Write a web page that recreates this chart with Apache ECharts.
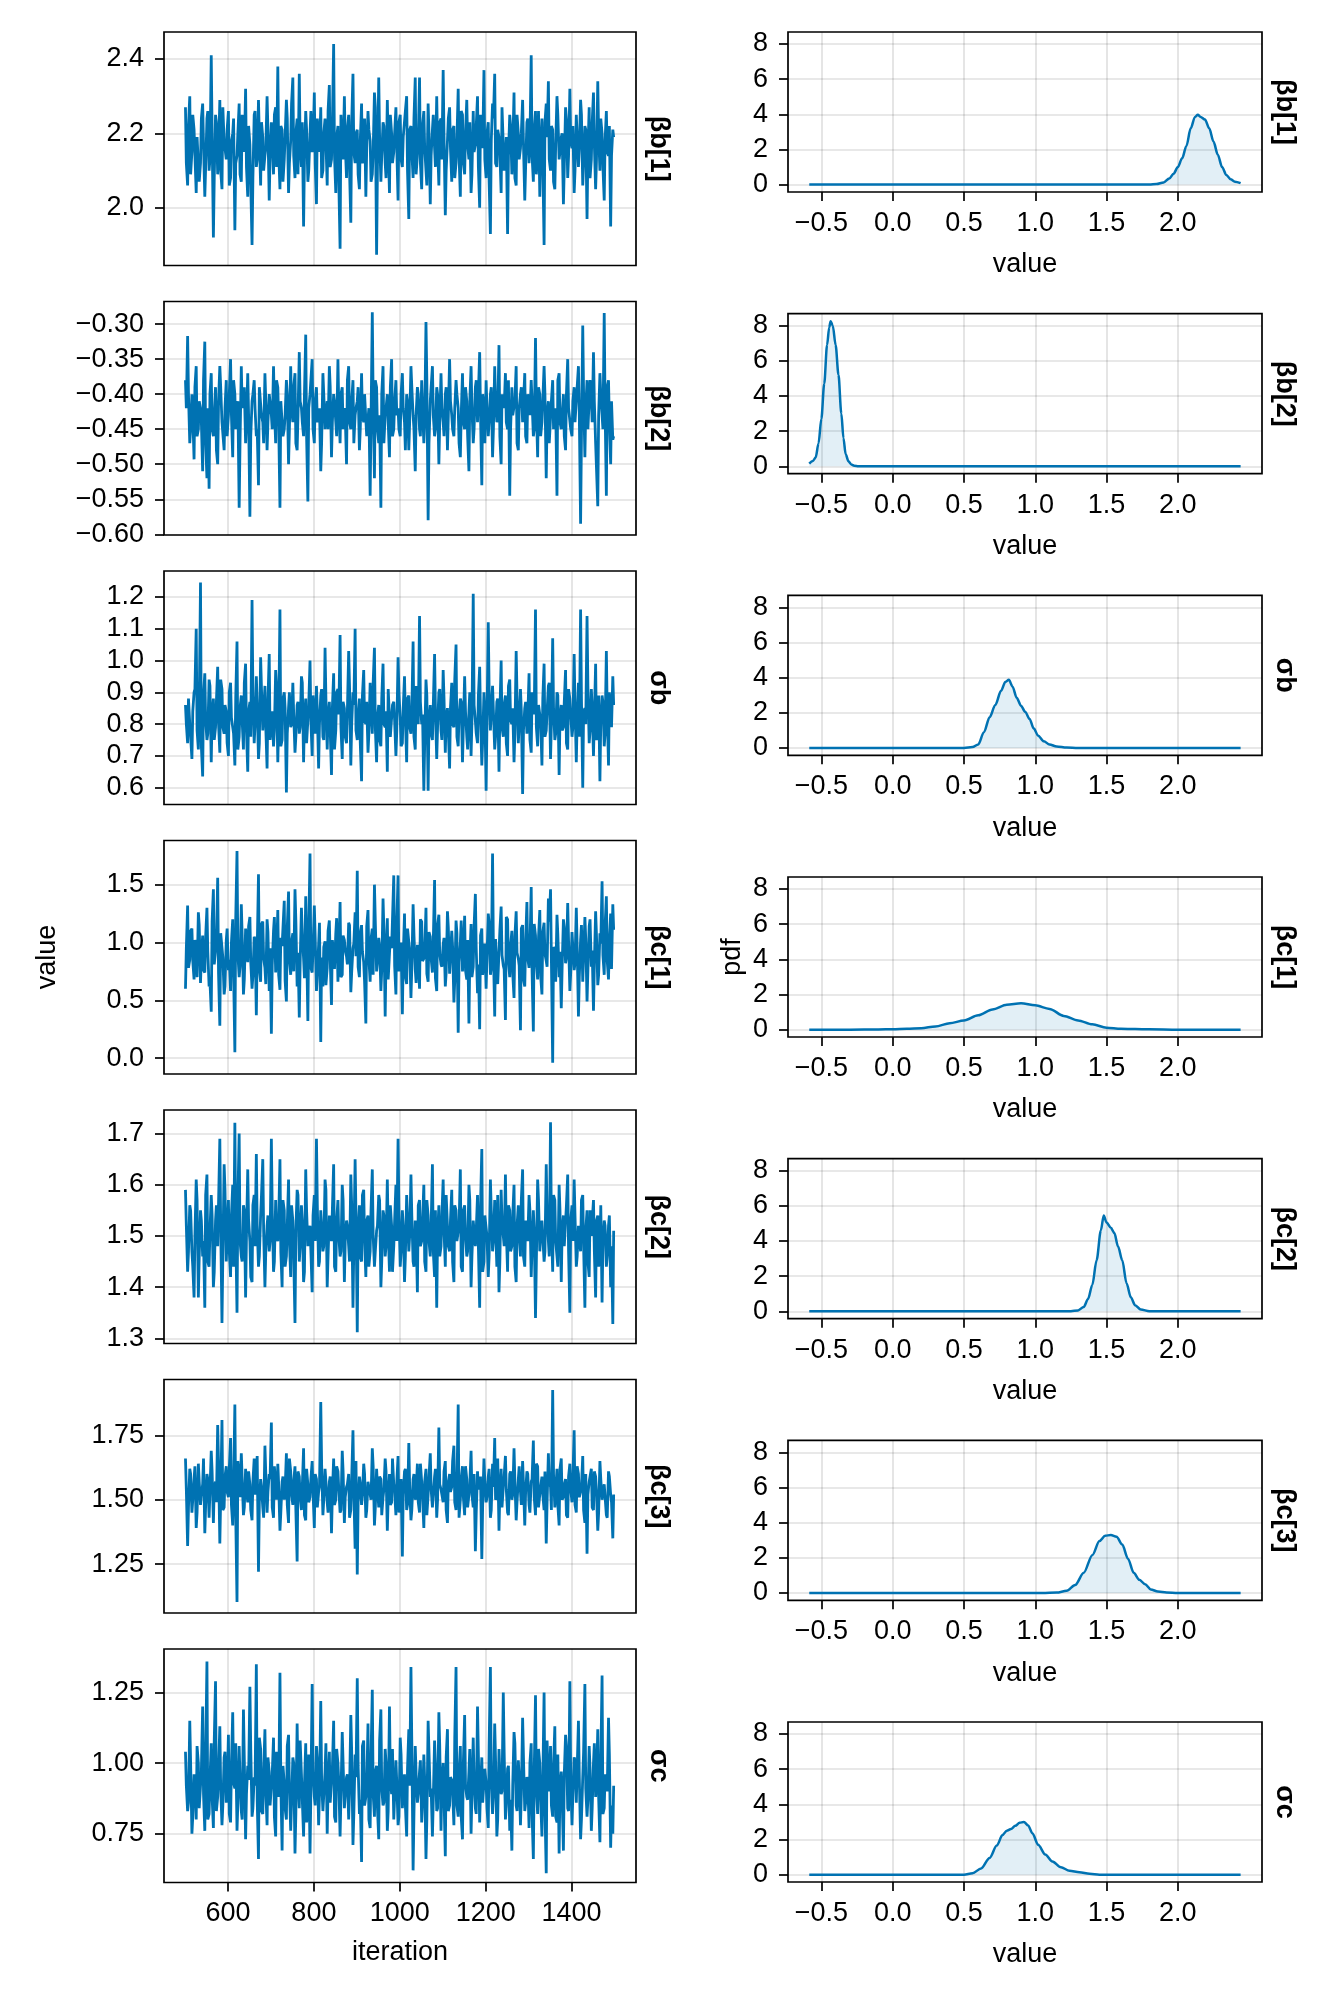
<!DOCTYPE html>
<html>
<head>
<meta charset="utf-8">
<script src="https://cdn.jsdelivr.net/npm/echarts@6/dist/echarts.min.js"></script>
<style>html,body{margin:0;padding:0;background:#fff}#c{width:1334px;height:2000px}</style>
</head>
<body>
<div id="c"></div>
<script>
// ---------- DATA ----------
const paramNames = ['βb[1]', 'βb[2]', 'σb', 'βc[1]', 'βc[2]', 'βc[3]', 'σc'];
// draws read at iterations 501,506,... (set A) and 503,508,... (set B)
const iterationsA = Array.from({length: 200}, (_, i) => 501 + 5 * i);
const iterationsB = Array.from({length: 200}, (_, i) => 503 + 5 * i);

const trace_bb1 = [2.27,2.06,2.30,2.15,2.21,2.04,2.19,2.12,2.28,2.03,2.24,2.10,2.41,1.92,2.25,2.09,2.29,2.05,2.18,2.13,
2.26,2.08,2.20,1.94,2.14,2.28,2.07,2.22,2.32,2.03,2.17,1.90,2.25,2.11,2.29,2.06,2.19,2.14,2.30,2.02,
2.23,2.09,2.27,2.38,2.05,2.21,2.13,2.29,2.04,2.18,2.35,2.08,2.24,2.36,2.11,1.95,2.26,2.07,2.20,2.15,
2.31,2.01,2.19,2.27,2.10,2.24,2.06,2.33,2.13,2.44,2.04,2.22,1.89,2.16,2.30,2.08,2.25,1.96,2.36,2.12,
2.21,2.05,2.28,2.14,2.03,2.26,2.18,2.09,2.31,1.874,2.35,2.07,2.23,2.12,2.29,2.04,2.20,2.15,2.27,2.02,
2.25,2.11,2.19,2.30,1.97,2.22,2.08,2.35,2.14,2.35,2.05,2.26,2.10,2.28,2.01,2.21,2.16,2.30,2.06,2.24,
2.37,1.98,2.18,2.27,2.07,2.22,2.12,2.32,2.03,2.25,2.09,2.29,2.13,2.04,2.26,2.17,2.30,2.00,2.21,2.37,
2.08,2.23,1.93,2.28,2.36,2.11,2.19,2.04,2.27,2.14,1.93,2.25,2.09,2.31,2.06,2.20,2.16,2.29,2.02,2.23,
2.12,2.41,2.07,2.26,2.15,2.03,2.24,1.90,2.28,2.34,2.10,2.21,2.05,2.30,2.13,2.19,2.01,2.27,2.08,2.32,
2.16,2.04,2.25,2.11,2.29,2.06,2.22,1.97,2.27,2.13,2.31,2.05,2.34,2.10,2.20,2.02,2.26,2.14,1.95,2.21];
const trace_bb1_b = [2.12,2.22,2.09,2.25,2.14,2.19,2.07,2.24,2.17,2.11,2.26,2.13,2.20,2.08,2.23,2.15,2.10,2.27,2.16,2.21,
2.06,2.18,2.24,2.12,2.20,2.09,2.25,2.15,2.11,2.22,2.17,2.08,2.26,2.13,2.19,2.23,2.10,2.16,2.21,2.14,
2.18,2.25,2.11,2.15,2.22,2.07,2.19,2.24,2.12,2.28,2.14,2.20,2.09,2.17,2.23,2.13,2.21,2.10,2.26,2.16,
2.12,2.24,2.15,2.08,2.20,2.18,2.26,2.11,2.22,2.14,2.19,2.07,2.25,2.13,2.17,2.21,2.10,2.23,2.15,2.20,
2.09,2.18,2.12,2.24,2.16,2.21,2.07,2.15,2.27,2.11,2.19,2.14,2.22,2.08,2.17,2.25,2.12,2.20,2.16,2.23,
2.13,2.19,2.26,2.10,2.21,2.15,2.24,2.09,2.18,2.12,2.22,2.16,2.06,2.20,2.14,2.25,2.11,2.17,2.23,2.13,
2.19,2.10,2.24,2.16,2.21,2.08,2.18,2.14,2.26,2.12,2.20,2.17,2.23,2.09,2.15,2.22,2.11,2.25,2.16,2.13,
2.20,2.07,2.18,2.24,2.12,2.21,2.15,2.27,2.10,2.19,2.14,2.22,2.16,2.08,2.25,2.13,2.20,2.17,2.11,2.24,
2.18,2.14,2.21,2.09,2.26,2.16,2.12,2.23,2.19,2.13,2.22,2.07,2.17,2.25,2.15,2.20,2.11,2.24,2.14,2.18,
2.22,2.10,2.19,2.16,2.25,2.12,2.21,2.15,2.08,2.23,2.17,2.13,2.20,2.24,2.11,2.18,2.15,2.22,2.14,2.19];

const trace_bb2 = [-0.38,-0.317,-0.47,-0.40,-0.493,-0.36,-0.45,-0.42,-0.51,-0.325,
-0.52,-0.535,-0.37,-0.46,-0.39,-0.50,-0.36,-0.44,-0.48,-0.38,
-0.43,-0.35,-0.49,-0.40,-0.45,-0.562,-0.36,-0.42,-0.47,-0.37,
-0.575,-0.41,-0.38,-0.46,-0.53,-0.39,-0.44,-0.37,-0.48,-0.40,
-0.43,-0.36,-0.47,-0.39,-0.562,-0.41,-0.45,-0.38,-0.50,-0.36,
-0.44,-0.37,-0.48,-0.34,-0.42,-0.46,-0.315,-0.553,-0.40,-0.35,
-0.47,-0.39,-0.43,-0.51,-0.37,-0.45,-0.41,-0.36,-0.49,-0.40,
-0.44,-0.35,-0.47,-0.39,-0.42,-0.50,-0.36,-0.45,-0.38,-0.43,
-0.41,-0.48,-0.37,-0.44,-0.40,-0.46,-0.545,-0.283,-0.52,-0.39,
-0.47,-0.562,-0.36,-0.43,-0.40,-0.49,-0.35,-0.45,-0.38,-0.42,
-0.46,-0.37,-0.44,-0.40,-0.48,-0.36,-0.43,-0.51,-0.39,-0.45,
-0.38,-0.47,-0.297,-0.58,-0.41,-0.36,-0.46,-0.39,-0.50,-0.37,
-0.44,-0.40,-0.48,-0.35,-0.43,-0.46,-0.38,-0.42,-0.49,-0.37,
-0.45,-0.41,-0.51,-0.36,-0.47,-0.39,-0.44,-0.34,-0.53,-0.42,
-0.38,-0.46,-0.40,-0.49,-0.36,-0.44,-0.33,-0.50,-0.41,-0.37,
-0.45,-0.545,-0.39,-0.43,-0.36,-0.48,-0.40,-0.44,-0.37,-0.47,
-0.42,-0.38,-0.46,-0.32,-0.49,-0.40,-0.44,-0.36,-0.52,-0.41,
-0.47,-0.38,-0.43,-0.545,-0.37,-0.45,-0.40,-0.48,-0.35,-0.42,
-0.46,-0.39,-0.44,-0.36,-0.585,-0.302,-0.49,-0.38,-0.45,-0.41,
-0.34,-0.47,-0.56,-0.37,-0.43,-0.284,-0.545,-0.38,-0.50,-0.465];
const trace_bb2_b = [-0.42,-0.40,-0.45,-0.43,-0.39,-0.46,-0.41,-0.44,-0.38,-0.47,-0.42,-0.40,-0.45,-0.43,-0.48,-0.41,-0.39,-0.44,-0.42,-0.46,
-0.40,-0.43,-0.38,-0.45,-0.41,-0.47,-0.42,-0.39,-0.44,-0.43,-0.46,-0.40,-0.42,-0.45,-0.39,-0.43,-0.47,-0.41,-0.44,-0.40,
-0.45,-0.42,-0.38,-0.44,-0.41,-0.46,-0.43,-0.40,-0.45,-0.42,-0.39,-0.47,-0.43,-0.41,-0.44,-0.40,-0.46,-0.42,-0.38,-0.45,
-0.41,-0.44,-0.42,-0.47,-0.40,-0.43,-0.45,-0.39,-0.44,-0.41,-0.46,-0.42,-0.40,-0.45,-0.43,-0.38,-0.44,-0.41,-0.47,-0.42,
-0.39,-0.45,-0.43,-0.40,-0.46,-0.42,-0.44,-0.41,-0.38,-0.45,-0.43,-0.40,-0.47,-0.42,-0.44,-0.39,-0.46,-0.41,-0.43,-0.45,
-0.40,-0.42,-0.48,-0.41,-0.44,-0.39,-0.45,-0.43,-0.40,-0.46,-0.42,-0.44,-0.38,-0.47,-0.41,-0.43,-0.45,-0.40,-0.44,-0.42,
-0.46,-0.39,-0.43,-0.41,-0.45,-0.42,-0.40,-0.47,-0.43,-0.44,-0.39,-0.46,-0.41,-0.42,-0.45,-0.38,-0.44,-0.43,-0.40,-0.47,
-0.42,-0.44,-0.39,-0.45,-0.41,-0.43,-0.46,-0.40,-0.42,-0.44,-0.38,-0.45,-0.43,-0.41,-0.47,-0.42,-0.39,-0.44,-0.46,-0.40,
-0.43,-0.41,-0.45,-0.42,-0.39,-0.46,-0.44,-0.40,-0.43,-0.47,-0.41,-0.45,-0.42,-0.38,-0.44,-0.43,-0.46,-0.40,-0.42,-0.45,
-0.41,-0.44,-0.39,-0.43,-0.46,-0.40,-0.42,-0.45,-0.38,-0.44,-0.41,-0.47,-0.43,-0.40,-0.45,-0.42,-0.39,-0.44,-0.41,-0.46];

const trace_sb = [0.86,0.74,0.80,0.69,0.90,1.10,0.72,1.245,0.635,0.96,
0.75,0.94,0.68,0.88,0.79,0.98,0.71,0.91,0.77,0.84,
0.70,0.93,0.82,0.67,1.06,0.76,0.89,0.72,0.99,0.65,
0.87,1.19,0.74,0.95,0.69,1.01,0.78,0.92,0.66,1.02,
0.80,0.73,0.97,0.68,1.16,0.75,0.90,0.585,0.85,0.79,
0.93,0.71,0.86,0.77,0.95,0.68,0.88,0.74,1.00,0.70,
0.84,0.92,0.66,0.89,0.76,1.04,0.72,0.87,0.64,0.96,
0.78,0.91,1.08,0.69,0.85,0.74,1.03,0.67,0.90,1.10,
0.75,0.88,0.62,0.97,0.80,0.71,0.93,0.77,1.04,0.68,
0.86,0.73,0.99,0.79,0.65,0.91,0.76,0.87,0.70,1.01,
0.82,0.74,0.95,0.68,0.89,0.77,1.06,0.72,0.92,1.14,
0.80,0.59,0.94,0.59,0.86,0.75,1.02,0.69,0.90,0.78,
0.97,0.71,0.85,0.66,0.93,0.79,1.05,0.73,0.88,0.68,
0.95,0.76,0.84,0.70,1.21,0.81,0.74,0.98,0.67,0.90,
0.59,1.12,0.78,0.92,0.72,0.87,0.65,1.00,0.76,0.89,
0.70,0.94,0.80,0.68,1.03,0.74,0.91,0.58,0.85,0.77,
0.96,0.71,0.88,1.16,0.73,0.83,0.67,0.99,0.78,0.92,
0.69,1.07,0.75,0.90,0.64,0.86,0.79,0.97,0.72,0.88,
0.76,1.02,0.68,0.93,1.16,0.60,0.85,1.14,0.74,0.91,
0.70,0.99,0.77,0.62,0.89,0.73,1.03,0.67,0.84,0.95];
const trace_sb_b = [0.80,0.88,0.76,0.84,0.91,0.78,0.85,0.73,0.89,0.81,0.77,0.92,0.83,0.75,0.87,0.80,0.94,0.79,0.86,0.74,
0.90,0.82,0.77,0.88,0.72,0.85,0.81,0.93,0.78,0.84,0.76,0.89,0.80,0.86,0.74,0.91,0.83,0.79,0.87,0.75,
0.84,0.78,0.92,0.81,0.73,0.88,0.85,0.77,0.90,0.80,0.83,0.76,0.87,0.79,0.93,0.82,0.74,0.86,0.81,0.89,
0.77,0.84,0.80,0.91,0.75,0.88,0.82,0.78,0.85,0.72,0.90,0.83,0.79,0.87,0.76,0.84,0.92,0.80,0.86,0.78,
0.83,0.74,0.89,0.81,0.87,0.77,0.85,0.93,0.79,0.82,0.75,0.88,0.80,0.84,0.91,0.76,0.86,0.81,0.78,0.90,
0.73,0.85,0.82,0.88,0.79,0.84,0.76,0.92,0.80,0.87,0.83,0.74,0.89,0.81,0.77,0.86,0.84,0.79,0.91,0.75,
0.88,0.82,0.78,0.85,0.80,0.94,0.76,0.83,0.87,0.79,0.84,0.72,0.90,0.81,0.86,0.77,0.89,0.82,0.75,0.85,
0.80,0.91,0.78,0.84,0.76,0.88,0.83,0.79,0.86,0.74,0.92,0.81,0.85,0.77,0.89,0.80,0.84,0.78,0.87,0.82,
0.75,0.90,0.83,0.79,0.86,0.81,0.88,0.76,0.84,0.93,0.80,0.85,0.77,0.89,0.82,0.78,0.87,0.74,0.91,0.83,
0.79,0.86,0.81,0.76,0.88,0.84,0.80,0.92,0.78,0.85,0.82,0.75,0.89,0.81,0.87,0.77,0.84,0.90,0.79,0.86];

const trace_bc1 = [0.60,1.32,0.85,1.12,0.68,0.97,1.26,0.65,1.06,0.74,
1.30,0.62,0.40,1.46,0.80,1.56,0.28,1.08,0.55,1.02,
0.76,0.58,1.20,0.05,1.79,0.70,1.33,0.55,1.12,0.83,
1.22,0.60,1.05,0.37,1.59,0.66,1.18,0.78,1.20,0.58,
0.21,1.10,0.74,1.28,0.59,0.97,1.36,0.49,1.44,0.72,
1.08,1.46,0.62,0.35,1.30,0.86,1.40,0.32,1.77,0.74,
1.32,0.58,0.98,0.14,0.62,1.01,0.78,1.19,0.46,0.92,
1.08,0.66,1.35,0.72,1.02,0.88,1.17,0.57,0.95,1.26,
1.62,0.70,1.15,0.83,0.30,1.28,0.66,1.12,1.50,0.75,
1.04,0.58,1.38,0.36,1.21,0.69,0.95,1.58,0.55,1.58,
0.81,0.38,1.25,0.64,1.11,0.52,1.33,0.77,0.98,0.60,
1.18,0.86,1.30,0.66,1.05,0.74,1.54,0.58,1.24,0.81,
0.98,0.62,1.27,0.73,1.10,0.48,1.19,0.22,1.00,0.75,
1.23,0.68,0.30,1.16,0.79,1.42,0.56,0.25,1.12,0.88,
0.60,1.25,0.72,1.77,0.36,1.03,0.65,1.31,0.80,0.33,
1.20,0.70,1.10,0.52,1.27,0.86,0.24,1.15,0.62,1.35,
0.78,1.48,0.23,1.06,0.68,1.28,0.55,1.17,0.84,1.38,
1.46,-0.04,0.93,1.24,0.70,0.43,1.20,0.82,1.34,0.58,
1.09,0.76,1.30,0.36,1.02,0.66,1.22,0.49,1.14,0.79,
0.41,1.27,0.63,1.08,1.53,0.72,1.40,0.68,1.25,1.33];
const trace_bc1_b = [0.95,0.78,1.10,0.84,1.02,0.70,1.15,0.88,0.76,1.05,0.92,0.66,1.18,0.81,0.99,0.73,1.08,0.87,0.62,1.12,
0.85,1.00,0.74,1.20,0.90,0.79,1.06,0.68,0.97,1.14,0.83,0.71,1.03,0.93,0.77,1.16,0.86,0.64,1.09,0.95,
0.80,1.22,0.89,0.72,1.04,0.96,0.67,1.13,0.84,1.01,0.75,1.19,0.91,0.82,1.07,0.69,0.98,1.11,0.78,0.94,
1.05,0.73,1.17,0.87,0.96,0.63,1.10,0.85,1.02,0.77,1.21,0.90,0.70,1.06,0.93,0.81,1.15,0.74,0.99,0.88,
0.79,1.08,0.92,0.66,1.14,0.86,1.03,0.72,1.18,0.83,0.97,0.76,1.11,0.89,0.68,1.05,0.94,0.80,1.16,0.75,
1.00,0.87,0.71,1.12,0.93,0.78,1.07,0.65,0.98,1.20,0.84,0.92,0.73,1.09,0.86,1.01,0.69,1.15,0.90,0.79,
1.04,0.74,1.13,0.88,0.96,0.67,1.08,0.83,1.19,0.91,0.76,1.02,0.85,0.70,1.14,0.95,0.81,1.06,0.72,0.99,
0.87,1.17,0.78,0.93,1.03,0.64,1.10,0.89,0.77,1.22,0.84,0.97,0.73,1.05,0.91,0.80,1.12,0.68,1.00,0.86,
0.94,0.75,1.16,0.83,1.04,0.71,1.09,0.90,0.79,1.18,0.85,0.96,0.66,1.07,0.92,0.78,1.13,0.87,1.01,0.74,
1.10,0.82,0.97,0.70,1.15,0.88,1.03,0.76,1.20,0.93,0.81,1.06,0.72,0.99,0.89,1.14,0.84,1.02,0.77,1.11];

const trace_bc2 = [1.59,1.43,1.56,1.47,1.38,1.61,1.38,1.55,1.46,1.36,
1.62,1.44,1.58,1.40,1.53,1.48,1.69,1.33,1.64,1.45,
1.57,1.42,1.60,1.721,1.35,1.70,1.46,1.56,1.38,1.63,
1.49,1.41,1.58,1.66,1.44,1.54,1.65,1.40,1.52,1.47,
1.69,1.43,1.57,1.49,1.65,1.40,1.55,1.46,1.61,1.42,
1.53,1.33,1.59,1.45,1.56,1.41,1.63,1.48,1.52,1.39,
1.58,1.69,1.44,1.55,1.47,1.61,1.40,1.54,1.49,1.64,
1.43,1.57,1.46,1.60,1.41,1.53,1.48,1.62,1.36,1.65,
1.312,1.56,1.45,1.59,1.42,1.54,1.47,1.63,1.44,1.51,
1.58,1.40,1.55,1.46,1.61,1.43,1.52,1.48,1.60,1.69,
1.44,1.55,1.41,1.58,1.47,1.62,1.45,1.53,1.39,1.57,
1.49,1.60,1.43,1.54,1.46,1.64,1.42,1.36,1.56,1.48,
1.61,1.44,1.52,1.47,1.59,1.41,1.55,1.49,1.63,1.43,
1.56,1.46,1.60,1.40,1.53,1.48,1.58,1.36,1.67,1.45,
1.54,1.42,1.61,1.47,1.57,1.44,1.39,1.59,1.50,1.62,
1.43,1.55,1.48,1.60,1.41,1.56,1.46,1.63,1.44,1.52,
1.58,1.42,1.55,1.34,1.61,1.47,1.53,1.45,1.64,1.49,
1.722,1.43,1.57,1.46,1.60,1.41,1.54,1.48,1.62,1.35,
1.56,1.61,1.44,1.52,1.47,1.58,1.36,1.55,1.42,1.50,
1.57,1.38,1.54,1.46,1.37,1.53,1.44,1.52,1.40,1.328];
const trace_bc2_b = [1.52,1.47,1.55,1.44,1.50,1.57,1.46,1.53,1.49,1.58,1.45,1.51,1.54,1.43,1.56,1.48,1.52,1.46,1.59,1.50,
1.47,1.54,1.44,1.51,1.57,1.49,1.45,1.55,1.50,1.53,1.42,1.56,1.48,1.52,1.46,1.58,1.51,1.47,1.54,1.49,
1.55,1.45,1.50,1.53,1.47,1.57,1.44,1.52,1.49,1.56,1.46,1.51,1.58,1.48,1.53,1.43,1.55,1.50,1.47,1.54,
1.49,1.56,1.45,1.52,1.48,1.59,1.46,1.51,1.55,1.44,1.53,1.50,1.47,1.57,1.49,1.52,1.45,1.56,1.48,1.54,
1.51,1.46,1.58,1.49,1.53,1.44,1.55,1.50,1.47,1.52,1.57,1.45,1.54,1.48,1.51,1.56,1.43,1.53,1.49,1.55,
1.47,1.52,1.46,1.58,1.50,1.54,1.44,1.51,1.56,1.48,1.53,1.45,1.57,1.49,1.52,1.47,1.55,1.50,1.46,1.54,
1.51,1.58,1.48,1.53,1.45,1.56,1.49,1.52,1.44,1.55,1.50,1.47,1.57,1.46,1.53,1.51,1.48,1.56,1.43,1.54,
1.50,1.46,1.55,1.49,1.52,1.58,1.45,1.53,1.48,1.51,1.56,1.47,1.54,1.44,1.52,1.50,1.57,1.46,1.53,1.49,
1.55,1.48,1.51,1.45,1.57,1.50,1.53,1.47,1.54,1.46,1.52,1.58,1.49,1.44,1.55,1.51,1.48,1.56,1.47,1.53,
1.49,1.54,1.46,1.52,1.57,1.48,1.51,1.45,1.55,1.50,1.47,1.53,1.44,1.56,1.49,1.52,1.46,1.54,1.48,1.51];

const trace_bc3 = [1.66,1.32,1.62,1.45,1.58,1.39,1.64,1.48,1.56,1.37,
1.60,1.43,1.69,1.41,1.57,1.79,1.33,1.81,1.47,1.63,
1.51,1.74,1.40,1.87,1.103,1.59,1.68,1.44,1.62,1.49,
1.56,1.42,1.66,1.52,1.22,1.58,1.47,1.71,1.45,1.60,
1.80,1.43,1.55,1.64,1.38,1.57,1.50,1.68,1.41,1.61,
1.48,1.63,1.26,1.59,1.46,1.70,1.42,1.56,1.51,1.65,
1.39,1.58,1.53,1.88,1.44,1.62,1.49,1.57,1.37,1.66,
1.50,1.61,1.45,1.69,1.41,1.55,1.60,1.46,1.77,1.31,
1.21,1.59,1.48,1.64,1.43,1.57,1.52,1.70,1.40,1.62,
1.47,1.58,1.51,1.66,1.38,1.60,1.49,1.56,1.44,1.67,
1.53,1.28,1.61,1.46,1.72,1.42,1.58,1.50,1.64,1.45,
1.57,1.39,1.62,1.52,1.68,1.47,1.59,1.43,1.78,1.54,
1.49,1.65,1.41,1.60,1.55,1.71,1.46,1.87,1.50,1.63,
1.44,1.58,1.52,1.69,1.47,1.30,1.61,1.56,1.27,1.66,
1.49,1.59,1.43,1.64,1.74,1.51,1.38,1.62,1.55,1.67,
1.45,1.60,1.50,1.70,1.42,1.58,1.53,1.65,1.40,1.61,
1.48,1.57,1.73,1.44,1.63,1.52,1.59,1.46,1.33,1.68,
1.55,1.926,1.47,1.62,1.40,1.66,1.51,1.58,1.43,1.64,
1.49,1.77,1.45,1.60,1.53,1.67,1.41,1.29,1.57,1.62,
1.46,1.59,1.38,1.65,1.50,1.56,1.44,1.61,1.52,1.35];
const trace_bc3_b = [1.54,1.47,1.60,1.50,1.63,1.45,1.57,1.52,1.66,1.48,1.58,1.43,1.61,1.55,1.49,1.64,1.51,1.46,1.59,1.53,
1.62,1.48,1.56,1.44,1.65,1.51,1.58,1.47,1.54,1.61,1.46,1.57,1.52,1.67,1.49,1.55,1.43,1.60,1.53,1.58,
1.47,1.63,1.50,1.56,1.45,1.59,1.54,1.48,1.66,1.52,1.57,1.46,1.61,1.51,1.55,1.44,1.62,1.49,1.58,1.53,
1.60,1.47,1.55,1.64,1.50,1.57,1.45,1.59,1.52,1.48,1.63,1.54,1.46,1.61,1.51,1.56,1.43,1.58,1.53,1.65,
1.49,1.56,1.52,1.60,1.46,1.57,1.50,1.63,1.47,1.55,1.59,1.44,1.54,1.61,1.51,1.48,1.66,1.53,1.57,1.45,
1.58,1.52,1.62,1.48,1.55,1.46,1.60,1.53,1.49,1.64,1.51,1.57,1.44,1.59,1.54,1.47,1.62,1.50,1.56,1.52,
1.61,1.46,1.57,1.53,1.65,1.49,1.55,1.43,1.58,1.51,1.63,1.47,1.56,1.52,1.60,1.45,1.54,1.59,1.48,1.57,
1.51,1.62,1.46,1.55,1.50,1.66,1.53,1.47,1.59,1.54,1.44,1.61,1.52,1.57,1.49,1.63,1.48,1.56,1.53,1.60,
1.45,1.58,1.51,1.64,1.47,1.55,1.52,1.61,1.49,1.57,1.46,1.60,1.53,1.48,1.62,1.50,1.56,1.44,1.59,1.54,
1.58,1.48,1.63,1.51,1.55,1.46,1.60,1.52,1.57,1.47,1.61,1.53,1.45,1.58,1.50,1.56,1.43,1.59,1.49,1.52];

const trace_sc = [1.04,0.83,1.15,0.75,0.96,0.80,1.00,0.84,1.20,0.76,
1.36,0.82,1.07,0.77,1.29,0.88,1.13,0.78,1.02,0.86,
1.10,0.79,1.18,0.91,0.76,1.06,0.83,1.19,0.73,0.99,
1.27,0.81,0.95,1.35,0.66,1.05,0.82,1.12,0.78,0.97,
0.85,1.09,0.74,1.01,1.32,0.69,0.93,0.80,1.10,0.76,
1.02,0.68,1.14,0.84,0.96,0.74,1.07,0.82,0.68,1.28,
0.88,1.06,0.78,1.22,0.83,0.97,0.75,1.04,0.86,1.15,
0.79,1.00,0.74,1.11,0.84,0.95,0.80,1.17,0.71,1.03,
1.30,0.82,0.65,1.08,0.88,1.14,0.77,1.26,0.81,0.99,
0.73,1.19,0.85,1.05,0.76,1.20,0.89,0.80,1.01,0.78,
1.09,0.84,0.96,0.74,1.12,1.34,0.62,1.06,0.86,0.97,
0.79,1.03,0.66,1.15,0.88,0.74,1.08,0.83,1.18,0.76,
1.00,0.67,1.12,0.85,0.94,0.78,1.34,0.81,1.06,0.73,
1.17,0.88,0.97,0.75,1.09,0.84,1.20,0.79,1.02,0.86,
0.93,0.77,1.34,0.82,1.14,0.74,1.05,0.89,1.25,0.80,
0.98,0.76,0.69,1.11,0.85,1.01,0.78,1.16,0.83,0.95,
0.77,1.07,0.66,1.24,0.82,1.00,0.74,1.25,0.61,0.92,
1.06,0.81,1.13,0.79,0.68,0.97,0.69,1.10,0.84,1.29,
0.78,1.02,0.86,1.15,0.73,0.95,1.28,0.81,1.06,0.76,
1.00,0.88,1.12,0.72,1.31,0.84,0.96,1.16,0.70,0.75];
const trace_sc_b = [0.92,0.86,1.00,0.81,0.95,1.06,0.84,0.97,0.89,1.03,0.80,0.94,0.88,1.08,0.83,0.98,0.91,0.85,1.04,0.90,
0.82,0.99,0.93,1.07,0.86,0.95,0.80,1.01,0.89,0.94,1.05,0.84,0.92,0.87,1.09,0.83,0.97,0.90,1.02,0.85,
0.96,0.81,1.04,0.88,0.93,0.99,0.84,1.06,0.91,0.86,1.00,0.82,0.95,1.08,0.87,0.92,0.79,1.03,0.90,0.97,
0.85,1.01,0.89,0.94,0.83,1.07,0.91,0.86,0.98,0.81,1.05,0.93,0.88,1.00,0.84,0.96,0.90,1.04,0.82,0.95,
0.99,0.87,1.06,0.85,0.92,0.80,1.02,0.89,0.97,0.84,1.08,0.91,0.86,1.00,0.83,0.94,1.05,0.88,0.93,0.81,
1.03,0.90,0.85,0.98,0.92,1.07,0.82,0.96,0.89,1.01,0.86,0.94,0.80,1.04,0.91,0.87,0.99,0.84,1.06,0.93,
0.88,1.02,0.83,0.95,0.90,1.09,0.85,0.97,0.81,1.00,0.92,0.87,1.05,0.89,0.94,0.82,1.03,0.91,0.86,0.98,
0.84,1.06,0.93,0.88,1.01,0.80,0.96,0.90,1.04,0.85,0.99,0.87,0.92,1.07,0.83,0.95,0.89,1.02,0.86,0.94,
1.00,0.82,0.97,0.91,1.05,0.87,0.93,0.84,1.08,0.90,0.85,0.99,0.81,1.03,0.92,0.88,0.96,1.06,0.83,0.94,
0.89,1.01,0.86,0.95,0.80,1.04,0.91,0.87,0.98,0.84,1.07,0.93,0.88,1.00,0.82,0.96,0.90,1.03,0.85,0.92];

// density estimates (x = parameter value, y = pdf)
const dens_bb1_x = [-0.585,1.80,1.85,1.90,1.94,1.97,2.00,2.03,2.06,2.09,2.12,2.14,2.16,2.19,2.22,2.25,2.28,2.31,2.34,2.37,2.40,2.44];
const dens_bb1_y = [0,0,0.03,0.12,0.35,0.62,1.0,1.5,2.2,3.2,3.85,3.97,3.85,3.7,3.2,2.45,1.7,1.0,0.55,0.3,0.17,0.08];
const dens_bb2_x = [-0.585,-0.56,-0.54,-0.52,-0.50,-0.48,-0.46,-0.445,-0.435,-0.42,-0.40,-0.38,-0.36,-0.345,-0.33,-0.31,-0.29,-0.27,-0.24,2.44];
const dens_bb2_y = [0.15,0.3,0.5,1.3,2.7,4.7,6.9,7.9,8.25,8.0,6.9,5.2,3.0,1.6,0.7,0.28,0.1,0.03,0,0];
const dens_sb_x = [-0.585,0.50,0.56,0.60,0.64,0.68,0.72,0.76,0.79,0.815,0.84,0.87,0.90,0.93,0.96,0.99,1.02,1.06,1.10,1.15,1.22,1.30,2.44];
const dens_sb_y = [0,0,0.05,0.2,0.9,1.75,2.45,3.25,3.75,3.88,3.5,2.85,2.4,2.05,1.65,1.1,0.7,0.38,0.2,0.08,0.02,0,0];
const dens_bc1_x = [-0.585,-0.3,-0.1,0.0,0.1,0.2,0.3,0.4,0.5,0.6,0.7,0.8,0.9,1.0,1.1,1.2,1.3,1.4,1.5,1.6,1.7,1.8,2.0,2.44];
const dens_bc1_y = [0,0,0.01,0.02,0.05,0.08,0.18,0.36,0.52,0.82,1.15,1.42,1.50,1.38,1.18,0.78,0.52,0.3,0.11,0.05,0.03,0.02,0,0];
const dens_bc2_x = [-0.585,1.25,1.30,1.34,1.37,1.40,1.43,1.46,1.48,1.50,1.53,1.555,1.58,1.61,1.64,1.67,1.70,1.74,1.80,2.44];
const dens_bc2_y = [0,0,0.05,0.25,0.7,1.5,2.9,4.6,5.45,5.05,4.75,4.45,3.7,2.9,1.6,0.8,0.35,0.1,0,0];
const dens_bc3_x = [-0.585,1.05,1.15,1.22,1.28,1.34,1.40,1.45,1.49,1.53,1.57,1.61,1.65,1.69,1.73,1.77,1.81,1.86,1.92,2.0,2.44];
const dens_bc3_y = [0,0,0.02,0.12,0.45,1.15,2.15,2.95,3.25,3.3,3.2,2.75,1.95,1.15,0.75,0.5,0.2,0.08,0.03,0,0];
const dens_sc_x = [-0.585,0.50,0.56,0.62,0.68,0.73,0.77,0.80,0.83,0.86,0.89,0.92,0.95,0.98,1.02,1.07,1.12,1.18,1.24,1.31,1.38,1.45,2.44];
const dens_sc_y = [0,0,0.08,0.35,0.95,1.65,2.25,2.5,2.6,2.78,2.95,3.0,2.8,2.35,1.7,1.15,0.75,0.42,0.22,0.14,0.05,0,0];

// tick labels
const traceXTicks = [600, 800, 1000, 1200, 1400];
const densXTicks = [-0.5, 0.0, 0.5, 1.0, 1.5, 2.0];
const densYTicks = [0, 2, 4, 6, 8];
const traceYTicks = [
  [2.0, 2.2, 2.4],
  [-0.60, -0.55, -0.50, -0.45, -0.40, -0.35, -0.30],
  [0.6, 0.7, 0.8, 0.9, 1.0, 1.1, 1.2],
  [0.0, 0.5, 1.0, 1.5],
  [1.3, 1.4, 1.5, 1.6, 1.7],
  [1.25, 1.50, 1.75],
  [0.75, 1.00, 1.25]
];
const traceYDecimals = [1, 2, 1, 1, 1, 2, 2];

// ---------- LAYOUT ----------
const tracesA = [trace_bb1, trace_bb2, trace_sb, trace_bc1, trace_bc2, trace_bc3, trace_sc];
const tracesB = [trace_bb1_b, trace_bb2_b, trace_sb_b, trace_bc1_b, trace_bc2_b, trace_bc3_b, trace_sc_b];
const densX = [dens_bb1_x, dens_bb2_x, dens_sb_x, dens_bc1_x, dens_bc2_x, dens_bc3_x, dens_sc_x];
const densY = [dens_bb1_y, dens_bb2_y, dens_sb_y, dens_bc1_y, dens_bc2_y, dens_bc3_y, dens_sc_y];
const traceYRange = [[1.845, 2.4725], [-0.601, -0.2677], [0.547, 1.2815], [-0.138, 1.882], [1.290, 1.746], [1.06, 1.967], [0.577, 1.404]];

const FONT = '"Liberation Sans", Arial, sans-serif';
const FS = 27;
const BLUE = '#0072B2';
const GRIDC = 'rgba(0,0,0,0.12)';
const L = {left: 164, width: 472, top0: 32, pitch: 269.5, height: 233.5};
const R = {left: 788, width: 474, top0: 32, pitch: 281.67, height: 160};

const fmt = (d) => (v) => Number(v).toFixed(d).replace('-', '\u2212');

function traceData(k) {
  const out = [];
  for (let i = 0; i < iterationsA.length; i++) {
    out.push([iterationsA[i], tracesA[k][i]]);
    out.push([iterationsB[i], tracesB[k][i]]);
  }
  return out;
}

const grids = [], xAxes = [], yAxes = [], series = [], graphics = [];
for (let k = 0; k < 7; k++) {
  const lt = L.top0 + k * L.pitch;
  const rt = R.top0 + k * R.pitch;
  grids.push({left: L.left, top: lt, width: L.width, height: L.height, show: true, borderColor: '#000', borderWidth: 1.7, backgroundColor: 'transparent'});
  grids.push({left: R.left, top: rt, width: R.width, height: R.height, show: true, borderColor: '#000', borderWidth: 1.7, backgroundColor: 'transparent'});
  const last = k === 6;
  xAxes.push({
    gridIndex: 2 * k, type: 'value', min: 451, max: 1550,
    axisLine: {show: false, onZero: false},
    axisTick: {show: last, customValues: traceXTicks, length: 9, lineStyle: {color: '#000', width: 1.7}},
    axisLabel: {show: last, customValues: traceXTicks, fontFamily: FONT, fontSize: FS, color: '#000', margin: 18, formatter: fmt(0)},
    splitLine: {show: true, lineStyle: {color: GRIDC, width: 1.7}}
  });
  xAxes.push({
    gridIndex: 2 * k + 1, type: 'value', min: -0.734, max: 2.59,
    axisLine: {show: false, onZero: false},
    axisTick: {show: true, customValues: densXTicks, length: 9, lineStyle: {color: '#000', width: 1.7}},
    axisLabel: {show: true, customValues: densXTicks, fontFamily: FONT, fontSize: FS, color: '#000', margin: 18, formatter: fmt(1)},
    splitLine: {show: true, lineStyle: {color: GRIDC, width: 1.7}}
  });
  yAxes.push({
    gridIndex: 2 * k, type: 'value', min: traceYRange[k][0], max: traceYRange[k][1],
    axisLine: {show: false, onZero: false},
    axisTick: {show: true, customValues: traceYTicks[k], length: 9, lineStyle: {color: '#000', width: 1.7}},
    axisLabel: {show: true, customValues: traceYTicks[k], fontFamily: FONT, fontSize: FS, color: '#000', margin: 20, formatter: fmt(traceYDecimals[k])},
    splitLine: {show: true, lineStyle: {color: GRIDC, width: 1.7}}
  });
  yAxes.push({
    gridIndex: 2 * k + 1, type: 'value', min: -0.42, max: 8.68,
    axisLine: {show: false, onZero: false},
    axisTick: {show: true, customValues: densYTicks, length: 9, lineStyle: {color: '#000', width: 1.7}},
    axisLabel: {show: true, customValues: densYTicks, fontFamily: FONT, fontSize: FS, color: '#000', margin: 20, formatter: fmt(0)},
    splitLine: {show: true, lineStyle: {color: GRIDC, width: 1.7}}
  });
  series.push({
    type: 'line', xAxisIndex: 2 * k, yAxisIndex: 2 * k,
    data: traceData(k),
    showSymbol: false, symbol: 'none', lineStyle: {color: BLUE, width: 2.8}, z: 3
  });
  series.push({
    type: 'line', xAxisIndex: 2 * k + 1, yAxisIndex: 2 * k + 1,
    data: densX[k].map((x, i) => [x, densY[k][i]]),
    showSymbol: false, symbol: 'none', smooth: 0.3, smoothMonotone: 'x',
    lineStyle: {color: BLUE, width: 2.5},
    areaStyle: {color: 'rgba(0,114,178,0.16)', origin: 0}, z: 3
  });
  graphics.push({type: 'text', x: 658, y: lt + L.height / 2, rotation: -Math.PI / 2,
    style: {text: paramNames[k], font: 'bold 27px ' + FONT, fill: '#000', textAlign: 'center', textVerticalAlign: 'middle'}});
  graphics.push({type: 'text', x: 1284, y: rt + R.height / 2, rotation: -Math.PI / 2,
    style: {text: paramNames[k], font: 'bold 27px ' + FONT, fill: '#000', textAlign: 'center', textVerticalAlign: 'middle'}});
  graphics.push({type: 'text', x: R.left + R.width / 2, y: rt + R.height + 73,
    style: {text: 'value', font: FS + 'px ' + FONT, fill: '#000', textAlign: 'center', textVerticalAlign: 'middle'}});
}
graphics.push({type: 'text', x: L.left + L.width / 2, y: 1953,
  style: {text: 'iteration', font: FS + 'px ' + FONT, fill: '#000', textAlign: 'center', textVerticalAlign: 'middle'}});
graphics.push({type: 'text', x: 48, y: 957, rotation: Math.PI / 2,
  style: {text: 'value', font: FS + 'px ' + FONT, fill: '#000', textAlign: 'center', textVerticalAlign: 'middle'}});
graphics.push({type: 'text', x: 733, y: 957, rotation: Math.PI / 2,
  style: {text: 'pdf', font: FS + 'px ' + FONT, fill: '#000', textAlign: 'center', textVerticalAlign: 'middle'}});

const chart = echarts.init(document.getElementById('c'), null, {renderer: 'canvas'});
chart.setOption({
  animation: false,
  backgroundColor: '#fff',
  grid: grids, xAxis: xAxes, yAxis: yAxes, series: series, graphic: graphics
});
</script>
</body>
</html>
